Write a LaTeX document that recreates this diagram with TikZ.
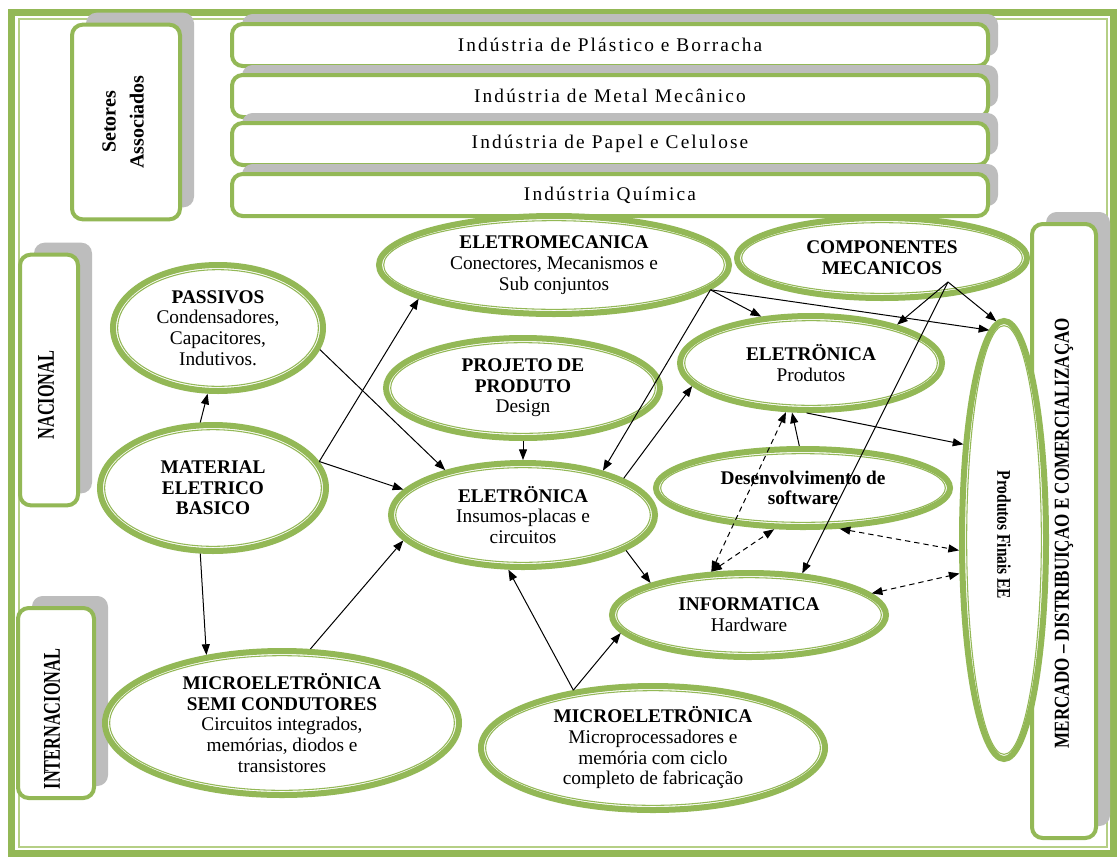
\documentclass[tikz,border=0pt]{standalone}
\usepackage{fontspec}
\setmainfont{Liberation Serif}
\newfontfamily\condA[FakeStretch=0.68]{Liberation Serif}
\newfontfamily\condB[FakeStretch=0.8]{Liberation Serif}
\newfontfamily\spacedf[LetterSpace=11]{Liberation Serif}
\usetikzlibrary{shapes.geometric,arrows.meta,shadows,calc}
\definecolor{gr}{HTML}{93B856}
\definecolor{grl}{HTML}{B5CF85}
\definecolor{shd}{HTML}{BDBDBD}
\newcommand\myfs{\fontsize{14.5}{15.5}\selectfont}
\tikzset{
  ell/.style={ellipse, draw=gr, line width=4.5pt, fill=white, inner sep=0pt,
    align=center, font=\myfs,
    path picture={\draw[gr, line width=0.8pt]
      let \p1=(path picture bounding box.north east),
          \p2=(path picture bounding box.center) in
      (\p2) ellipse ({\x1-\x2-3.5pt} and {\y1-\y2-3.5pt});}},
  rbox/.style={rectangle, rounded corners=8pt, draw=gr, line width=3pt, fill=white,
    drop shadow={shadow xshift=10.5pt, shadow yshift=9pt, fill=shd, opacity=1}},
  bar/.style={rectangle, rounded corners=8pt, draw=gr, line width=3pt, fill=white,
    minimum width=567pt, minimum height=31.5pt, font=\spacedf\myfs,
    drop shadow={shadow xshift=7.5pt, shadow yshift=7.5pt, fill=shd, opacity=1}},
  arr/.style={draw=black, line width=0.75pt, -{Triangle[length=8pt,width=6pt]}},
  darr/.style={draw=black, line width=0.75pt, dash pattern=on 4pt off 3pt,
    {Triangle[length=8pt,width=6pt]}-{Triangle[length=8pt,width=6pt]}}
}
\begin{document}
\begin{tikzpicture}[x=0.75pt,y=-0.75pt]
\useasboundingbox (0,0) rectangle (1120,857);
\fill[white] (0,0) rectangle (1120,857);
\draw[gr, line width=5pt] (11.5,12.5) rectangle (1113.5,853.5);
\draw[grl, line width=0.8pt] (19,19) rectangle (1107,847);

% side boxes
\node[rbox, minimum width=81pt, minimum height=146pt] (setb) at (126,122) {};
\node[rotate=90, align=center, font=\fontsize{15}{21}\selectfont\bfseries] (sett) at (123,122) {Setores\\Associados};

\node[bar] (b1) at (610,45) {Indústria de Plástico e Borracha};
\node[bar] (b2) at (610,96) {Indústria de Metal Mecânico};
\node[bar] (b3) at (610,144) {Indústria de Papel e Celulose};
\node[bar] (b4) at (610,195) {Indústria Química};

\node[rbox, minimum width=43.5pt, minimum height=188pt] (nacb) at (49,380) {};
\node[rotate=90, font=\condA\fontsize{18}{20}\selectfont\bfseries] (nact) at (46,395) {NACIONAL};

\node[rbox, minimum width=57pt, minimum height=142.5pt] (intb) at (56,703) {};
\node[rotate=90, font=\condA\fontsize{18}{20}\selectfont\bfseries] (intt) at (52,719) {INTERNACIONAL};

\node[rbox, minimum width=48pt, minimum height=460.5pt] (mercb) at (1064,531) {};
\node[rotate=90, font=\condB\fontsize{16}{18}\selectfont\bfseries] (mertt) at (1064,533) {MERCADO – DISTRIBUIÇAO E COMERCIALIZAÇAO};

% ellipses
\node[ell, minimum width=262.5pt, minimum height=73.5pt] (emec) at (554,265)
  {\textbf{ELETROMECANICA}\\Conectores, Mecanismos e\\Sub conjuntos};
\node[ell, minimum width=217.5pt, minimum height=60pt] (comp) at (882,258)
  {\textbf{COMPONENTES}\\\textbf{MECANICOS}};
\node[ell, minimum width=157.5pt, minimum height=94.5pt] (pas) at (218,328)
  {\textbf{PASSIVOS}\\Condensadores,\\Capacitores,\\Indutivos.};
\node[ell, minimum width=205.5pt, minimum height=75pt] (proj) at (523,388)
  {\textbf{PROJETO DE}\\\textbf{PRODUTO}\\Design};
\node[ell, minimum width=196.5pt, minimum height=70.5pt] (eprod) at (811,363)
  {\textbf{ELETRÖNICA}\\Produtos};
\node[ell, minimum width=169.5pt, minimum height=94.5pt] (mat) at (213,488)
  {\textbf{MATERIAL}\\\textbf{ELETRICO}\\\textbf{BASICO}};
\node[ell, minimum width=198pt, minimum height=78pt] (ins) at (523,515)
  {\textbf{ELETRÖNICA}\\Insumos-placas e\\circuitos};
\node[ell, minimum width=220.5pt, minimum height=58.5pt] (soft) at (803,488)
  {\textbf{Desenvolvimento de}\\\textbf{software}};
\node[ell, minimum width=205.5pt, minimum height=63pt] (info) at (749,615)
  {\textbf{INFORMATICA}\\Hardware};
\node[ell, minimum width=265.5pt, minimum height=108pt] (semi) at (282,723)
  {\textbf{MICROELETRÖNICA}\\\textbf{SEMI CONDUTORES}\\Circuitos integrados,\\memórias, diodos e\\transistores};
\node[ell, minimum width=258pt, minimum height=93pt] (micro) at (653,748)
  {\textbf{MICROELETRÖNICA}\\Microprocessadores e\\memória com ciclo\\completo de fabricação};
\node[ell, minimum width=63pt, minimum height=328.5pt] (fin) at (1004,540) {};
\node[rotate=-90, font=\condB\fontsize{14.5}{16}\selectfont\bfseries] (fint) at (1004,535) {Produtos Finais EE};

\coordinate (compsrc) at (948,282);

% solid arrows
\draw[arr] (mat.101) -- (pas.261);
\draw[arr] (pas.-12) -- (ins.150);
\draw[arr] (mat.14) -- (emec.194);
\draw[arr] (mat.14) -- (ins.168);
\draw[arr] (mat.-101) -- (semi.138);
\draw[arr] (semi.69) -- (ins.192);
\draw[arr] (proj.south) -- (ins.north);
\draw[arr] (emec.-9) -- (ins.29);
\draw[arr] (ins.20) -- (eprod.191);
\draw[arr] (emec.-9) -- (eprod.137);
\draw[arr] (emec.-9) -- (fin.94);
\draw[arr] (compsrc) -- (eprod.24);
\draw[arr] (compsrc) -- (fin.92);
\draw[arr] (compsrc) -- (info.38);
\draw[arr] (soft.95) -- (eprod.249);
\draw[arr] (eprod.265) -- (fin.113);
\draw[arr] (ins.-19) -- (info.162);
\draw[arr] (micro.144) -- (ins.255);
\draw[arr] (micro.144) -- (info.188);

% dashed arrows
\draw[darr] (info.131) -- (eprod.243);
\draw[darr] (info.131) -- (soft.235);
\draw[darr] (soft.-48) -- (fin.193);
\draw[darr] (info.10) -- (fin.217);
\end{tikzpicture}
\end{document}
